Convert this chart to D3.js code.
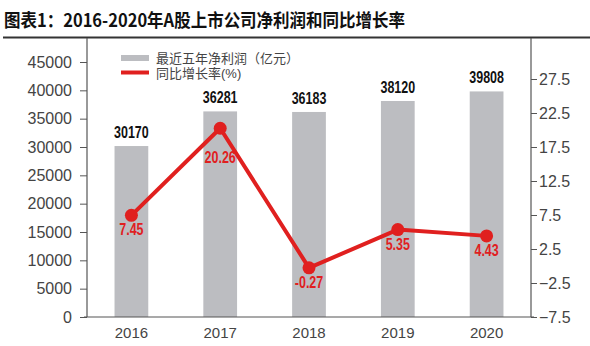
<!DOCTYPE html>
<html><head><meta charset="utf-8">
<script src="https://cdn.jsdelivr.net/npm/d3@7/dist/d3.min.js"></script>
<style>
html,body{margin:0;padding:0;background:#fff;}
svg{display:block;}
</style></head>
<body>
<svg id="chart" width="590" height="346"></svg>
<script>
const years = ["2016","2017","2018","2019","2020"];
const profit = [30170, 36281, 36183, 38120, 39808];
const growth = [7.45, 20.26, -0.27, 5.35, 4.43];
const leftTicks = [0,5000,10000,15000,20000,25000,30000,35000,40000,45000];
const rightTicks = [-7.5,-2.5,2.5,7.5,12.5,17.5,22.5,27.5];
const titleText = "图表1：2016-2020年A股上市公司净利润和同比增长率";
const legendLabels = ["最近五年净利润（亿元）","同比增长率(%)"];

(function(){
const mL=87,mR=531,mB=317,mT=38;
const svg=d3.select("#chart");
const red="#e0201f", barCol="#bcbdc1", axisCol="#555";
const numFont="'Liberation Sans', Arial, sans-serif";
const cjk="'Noto Sans CJK SC', sans-serif";
const legFont="'Liberation Sans','Noto Sans CJK SC', sans-serif";
const boldNum="'Liberation Sans', Arial, sans-serif";

// title
svg.append("text").attr("x",4).attr("y",27).text(titleText)
  .attr("font-family",cjk).attr("font-weight","bold").attr("font-size",18)
  .attr("fill","#111").attr("textLength",401).attr("lengthAdjust","spacingAndGlyphs");
svg.append("line").attr("x1",3).attr("x2",590).attr("y1",37.5).attr("y2",37.5)
  .attr("stroke","#333").attr("stroke-width",2);

const x=d3.scaleBand().domain(years).range([mL,mR]).paddingInner(0.62).paddingOuter(0.31);
const yL=d3.scaleLinear().domain([0,45000]).range([mB,62]);
const yR=d3.scaleLinear().domain([-7.5,27.5]).range([mB,79]);
const xc=d=>x(d)+x.bandwidth()/2;

// bars
svg.append("g").selectAll("rect").data(years).join("rect")
  .attr("x",d=>x(d)).attr("width",x.bandwidth())
  .attr("y",(d,i)=>yL(profit[i])).attr("height",(d,i)=>mB-yL(profit[i]))
  .attr("fill",barCol);

// left axis
const gL=svg.append("g").attr("transform",`translate(${mL},0)`)
  .call(d3.axisLeft(yL).tickValues(leftTicks).tickSize(7).tickPadding(8).tickFormat(d3.format("d")));
gL.select(".domain").remove();
gL.selectAll("line").attr("stroke",axisCol);
gL.selectAll("text").attr("font-family",numFont).attr("font-size",16).attr("fill","#444");
svg.append("line").attr("x1",mL).attr("x2",mL).attr("y1",mT).attr("y2",mB).attr("stroke",axisCol).attr("stroke-width",1.2);

// right axis
const gR=svg.append("g").attr("transform",`translate(${mR},0)`)
  .call(d3.axisRight(yR).tickValues(rightTicks).tickSize(6).tickPadding(2).tickFormat(d=>d3.format(".1f")(d).replace("-","−")));
gR.select(".domain").remove();
gR.selectAll("line").attr("stroke",axisCol);
gR.selectAll("text").attr("font-family",numFont).attr("font-size",16).attr("fill","#444");
svg.append("line").attr("x1",mR).attr("x2",mR).attr("y1",mT).attr("y2",mB).attr("stroke",axisCol).attr("stroke-width",1.2);

// x axis
const gX=svg.append("g").attr("transform",`translate(0,${mB})`)
  .call(d3.axisBottom(x).tickSize(0).tickPadding(10));
gX.select(".domain").remove();
gX.selectAll("text").attr("font-family",numFont).attr("font-size",15).attr("fill","#444");
svg.append("line").attr("x1",mL-3).attr("x2",mR+3).attr("y1",mB).attr("y2",mB).attr("stroke",axisCol).attr("stroke-width",1.2);

// bar labels (condensed via horizontal scale)
svg.append("g").selectAll("text").data(years).join("text")
  .attr("transform",(d,i)=>`translate(${xc(d)},${yL(profit[i])-8}) scale(0.78,1)`)
  .attr("text-anchor","middle").attr("font-family",boldNum).attr("font-weight","bold")
  .attr("font-size",16).attr("fill","#111").text((d,i)=>profit[i]);

// line
const line=d3.line().x((d,i)=>xc(years[i])).y(d=>yR(d));
svg.append("path").datum(growth).attr("d",line).attr("fill","none")
  .attr("stroke",red).attr("stroke-width",4).attr("stroke-linejoin","round");
svg.append("g").selectAll("circle").data(growth).join("circle")
  .attr("cx",(d,i)=>xc(years[i])).attr("cy",d=>yR(d)).attr("r",6.5).attr("fill",red);
svg.append("g").selectAll("text").data(growth).join("text")
  .attr("transform",(d,i)=>`translate(${xc(years[i])},${yR(d)+(i===1?35:20)}) scale(0.78,1)`)
  .attr("text-anchor","middle").attr("font-family",boldNum).attr("font-weight","bold")
  .attr("font-size",16).attr("fill",red).text(d=>d.toFixed(2));

// legend
const lg=svg.append("g");
lg.append("rect").attr("x",121).attr("y",55).attr("width",28).attr("height",6).attr("fill",barCol);
lg.append("line").attr("x1",121).attr("x2",149).attr("y1",72.5).attr("y2",72.5).attr("stroke",red).attr("stroke-width",4);
lg.selectAll("text").data(legendLabels).join("text")
  .attr("x",156).attr("y",(d,i)=>58+i*15.5).attr("dy","0.35em")
  .attr("font-family",legFont).attr("font-size",13).attr("fill","#444").text(d=>d);
})();
</script>
</body></html>
